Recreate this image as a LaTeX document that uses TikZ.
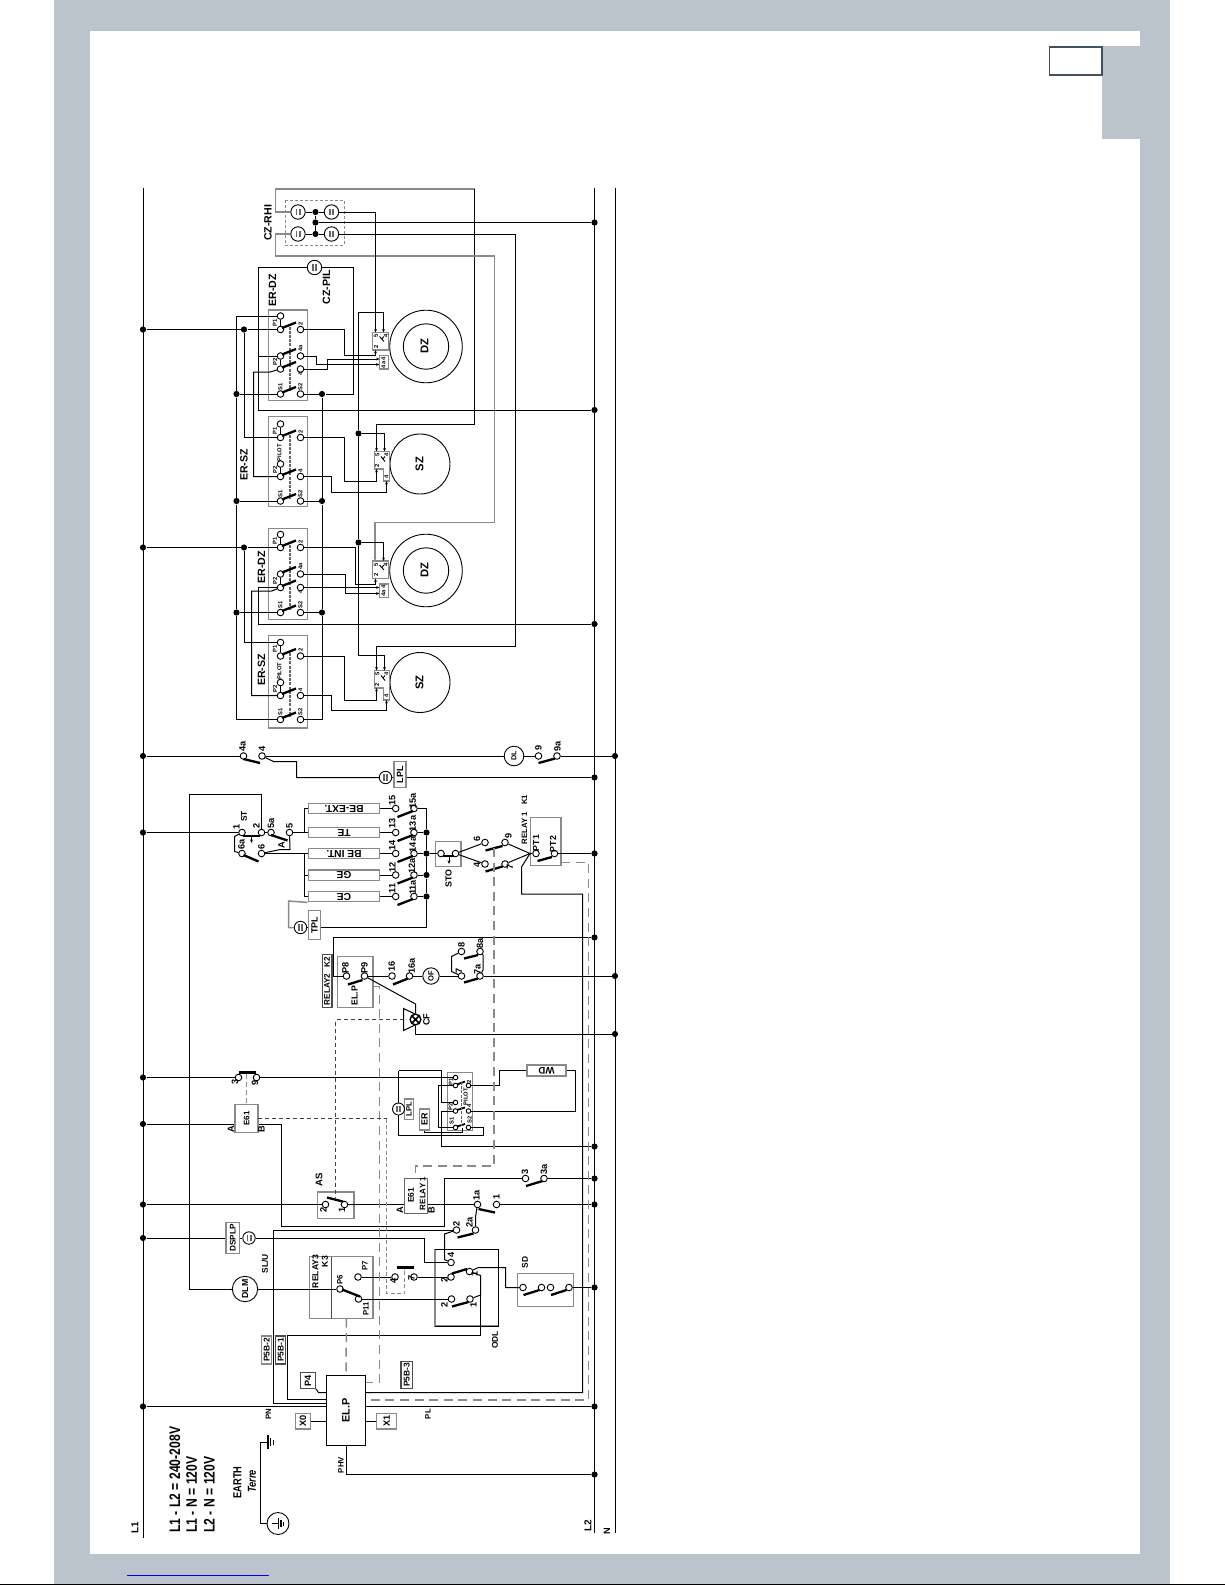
\documentclass[tikz,border=0pt]{standalone}
\usepackage{fontspec}
\setmainfont{Liberation Sans}
\newfontfamily\condfont[FakeStretch=0.8]{Liberation Sans}
\usetikzlibrary{calc,arrows.meta}
\definecolor{framegray}{HTML}{BBC3CD}
\definecolor{boxgray}{HTML}{8A8A8A}
\definecolor{tabdark}{HTML}{44525F}
\newcommand{\fsz}[1]{\fontsize{#1}{#1}\selectfont}
\tikzset{
  wire/.style={line width=.5pt},
  greywire/.style={line width=.75pt,draw=boxgray},
  plug/.style={->,>={Stealth[length=1.7pt,width=1.4pt]}},
  thindash/.style={line width=.45pt,dash pattern=on 2pt off 1.5pt,draw=black!75},
  greydash/.style={line width=.75pt,dash pattern=on 4.5pt off 2.8pt,draw=boxgray},
  finedash/.style={line width=.55pt,dash pattern=on 2pt off 1.2pt,draw=boxgray},
  term/.style={circle,draw,fill=white,inner sep=0pt,minimum size=3.3pt,line width=.45pt},
  smallterm/.style={term,minimum size=2.3pt},
  jdot/.style={circle,fill=black,inner sep=0pt,minimum size=3.1pt},
  blade/.style={line width=1.15pt},
  panel/.style={draw=boxgray,line width=.75pt},
  recep/.style={circle,draw,fill=white,inner sep=0pt,minimum size=#1,line width=.45pt,
    path picture={\draw[line width=.8pt,black!60]
      ([xshift=-.85pt,yshift=-1.7pt]path picture bounding box.center) -- ++(0,3.4pt)
      ([xshift=.85pt,yshift=-1.7pt]path picture bounding box.center) -- ++(0,3.4pt);}},
  recep/.default=7.2pt,
  tag/.style={draw=boxgray,line width=.7pt,fill=white,rotate=90,inner sep=0pt,font=\fsz{4.5}\bfseries},
  blackbox/.style={draw,line width=.5pt,fill=white,inner sep=0pt},
  func/.style={draw=boxgray,line width=.7pt,fill=white,rotate=180,inner sep=0pt,
    minimum width=35.7pt,minimum height=5.2pt,font=\fsz{5.1}\bfseries},
  motor/.style={circle,draw,line width=.45pt,inner sep=0pt},
  mlab/.style={rotate=90,inner sep=0pt,font=\fsz{5.6}\bfseries},
  lab/.style={rotate=90,inner sep=0pt,font=\fsz{4.6}\bfseries},
  tinylab/.style={rotate=90,inner sep=0pt,font=\fsz{2.9}\bfseries},
  boldlab/.style={rotate=90,inner sep=0pt,font=\fsz{5.3}\bfseries},
  biglab/.style={rotate=90,inner sep=0pt,anchor=west,font=\condfont\fsz{7.6}\bfseries},
  earthlab/.style={rotate=90,inner sep=0pt,font=\condfont\fsz{5.8}\bfseries}
}
\begin{document}
\begin{tikzpicture}[x=0.5pt,y=-0.5pt]
\useasboundingbox (0,0) rectangle (1225,1585);
% page frame
\fill[white] (0,0) rectangle (1225,1585);
\fill[framegray] (54,0) rectangle (1169.5,1584);
\fill[white] (89.5,31) rectangle (1140,1554);
\fill[framegray] (1102,46) rectangle (1140,139);
\draw[tabdark,fill=white,line width=.6pt] (1049.5,47) rectangle (1102,75);
\draw[tabdark,line width=1pt] (1049,46.5) -- (1102,46.5);
\draw[line width=.6pt] (0,1584.5) -- (1225,1584.5);
\draw[blue,line width=.4pt] (127,1575.5) -- (269,1575.5);
% supply lines
\coordinate (l1top) at (143,188);
\coordinate (l1bot) at (143,1538);
\coordinate (l2top) at (594.5,188);
\coordinate (l2bot) at (594.5,1533);
\coordinate (ntop) at (615,188);
\coordinate (nbot) at (615,1533);
\foreach \n/\y in {l1a/329.5,l1b/547.5,l1c/756,l1d/832.5,l1e/1077.5,l1f/1124,l1g/1204.5,l1h/1238,l1i/1406.5}
  \node[jdot] (\n) at (143,\y) {};
\foreach \n/\y in {l2a/222.5,l2b/410,l2c/624,l2d/777.5,l2e/853.5,l2f/937.5,l2g/1146.5,l2h/1178.5,l2i/1204.5,l2j/1287.5,l2k/1406.5,l2l/1474.5}
  \node[jdot] (\n) at (594.5,\y) {};
\foreach \n/\y in {na/756,nb/976,nc/1034}
  \node[jdot] (\n) at (615,\y) {};
\draw[wire] (l1top) -- (l1bot);
\draw[wire] (l2top) -- (l2bot);
\draw[wire] (ntop) -- (nbot);
\node[lab,font=\fsz{5}\bfseries] (ltxta) at (135,1528) {L1};
\node[lab,font=\fsz{5}\bfseries] (ltxtb) at (588,1526) {L2};
\node[lab,font=\fsz{4.6}\bfseries] (ltxtc) at (607,1531) {N};
% receptacles at the top
\draw[draw=boxgray,line width=.5pt,dash pattern=on 1.5pt off 1pt] (285,200) rectangle (344,245);
\foreach \n/\x/\y in {rhia/298/212,rhib/331.5/212,rhic/298/234,rhid/331.5/234,cpil/314.5/267.5}
  \node[recep] (\n) at (\x,\y) {};
\node[jdot] (rjt) at (315.5,212) {};
\node[jdot] (rjm) at (315.5,222.5) {};
\node[jdot] (rjb) at (315.5,234) {};
\node[boldlab] (czrhi) at (268,223) {CZ-RHI};
\node[boldlab] (czpil) at (326.5,287.5) {CZ-PIL};
% switch blocks
\foreach \b/\ya/\yb/\yc/\yd/\ye/\yt/\yz in {erda/316/329.5/356/369/394/310/400.5,erdb/534.5/547.5/574/587.5/612.5/528.5/619.5,ersa/424/437.5/464/476.5/501/416.5/506.5,ersb/642.5/656/682.5/695.5/719.5/635.5/728}{
  \draw[panel] (268.5,\yt) rectangle (307.5,\yz);
  \draw[line width=.7pt,draw=black!60,dash pattern=on 1.5pt off .6pt] (290,\yb-3) -- (290,\ye-3);
  \node[term] (\b-ptop) at (280.5,\ya) {};
  \node[term] (\b-p1) at (280.5,\yb) {};
  \node[term] (\b-tb) at (300.5,\yb) {};
  \node[term] (\b-p2a) at (280.5,\yc) {};
  \node[term] (\b-p2) at (280.5,\yd) {};
  \node[term] (\b-s1) at (280.5,\ye) {};
  \node[term] (\b-s2) at (300.5,\ye) {};
  \node[term] (\b-t4) at (300.5,\yd) {};
  \draw[blade] (282,\yb-1.5) -- (296,\yb-7);
  \draw[blade] (282,\yd-1.5) -- (296,\yd-7);
  \draw[blade] (282,\ye-1.5) -- (296,\ye-7);
  \draw[line width=.9pt] (\b-ptop) -- (\b-p1);
  \draw[line width=.9pt] (\b-p2a) -- (\b-p2);
  \node[tinylab] (\b-lp1) at (275,\yb-7) {P1};
  \node[tinylab] (\b-lt2) at (300.5,\yb-6) {2};
  \node[tinylab] (\b-lp2) at (275,\yd-7) {P2};
  \node[tinylab] (\b-ls1) at (280.5,\ye-7.5) {S1};
  \node[tinylab] (\b-ls2) at (300.5,\ye-7.5) {S2};
}
\foreach \b/\yc/\yd in {erda/356/369,erdb/574/587.5}{
  \node[term] (\b-t4a) at (300.5,\yc) {};
  \draw[blade] (282,\yc-1.5) -- (296,\yc-7);
  \node[tinylab] (\b-l4a) at (300.5,\yc-7.5) {4a};
  \node[tinylab] (\b-l4) at (300.5,\yd+4.5) {4};
}
\foreach \b/\yc/\yd in {ersa/464/476.5,ersb/682.5/695.5}{
  \node[tinylab] (\b-lpil) at (279.5,\yc-11.5) {PILOT};
  \node[tinylab] (\b-l4) at (300.5,\yd-6) {4};
}
\node[boldlab] (erdalab) at (272.5,290.5) {ER-DZ};
\node[boldlab] (erdblab) at (261.5,567.5) {ER-DZ};
\node[boldlab] (ersalab) at (244,465) {ER-SZ};
\node[boldlab] (ersblab) at (261.5,670) {ER-SZ};
\node[jdot] (jpa) at (244,329.5) {};
\node[jdot] (jpb) at (244,547.5) {};
\node[jdot] (jsa) at (236.5,394) {};
\node[jdot] (jsb) at (236.5,501) {};
\node[jdot] (jsc) at (236.5,612.5) {};
\node[jdot] (jra) at (322,394) {};
\node[jdot] (jrb) at (322,501) {};
\node[jdot] (jrc) at (322,612.5) {};
\node[jdot] (jha) at (358.5,433.5) {};
\node[jdot] (jhb) at (358.5,542.5) {};
% motors
\node[motor,minimum size=72.6*.5pt] (mda) at (426,346.5) {};
\node[motor,minimum size=45.4*.5pt] (mdai) at (426,346.5) {};
\node[mlab] (mdat) at (424.5,346.5) {DZ};
\node[motor,minimum size=72.6*.5pt] (mdb) at (426,570.5) {};
\node[motor,minimum size=45.4*.5pt] (mdbi) at (426,570.5) {};
\node[mlab] (mdbt) at (424.5,570.5) {DZ};
\node[motor,minimum size=60*.5pt] (msa) at (420,464) {};
\node[mlab] (msat) at (419.5,464) {SZ};
\node[motor,minimum size=60*.5pt] (msb) at (420,682.5) {};
\node[mlab] (msbt) at (419.5,682.5) {SZ};
% motor plugs
\foreach \s/\y in {a/332.5,b/561}{
  \draw[panel,fill=white] (372.5,\y) rectangle (388.5,\y+17.5);
  \draw[panel,fill=white] (379.5,\y+23) rectangle (388.5,\y+36.5);
  \node[tinylab] (pl\s a) at (376,\y+3.5) {5};
  \node[tinylab] (pl\s b) at (386,\y+3.5) {4};
  \node[tinylab] (pl\s c) at (376,\y+14) {2};
  \node[tinylab] (pl\s d) at (383.5,\y+30) {4a 4};
  \draw[line width=.45pt] (379.5,\y+4) -- (384,\y+9) (384,\y+4) -- (381.7,\y+6.5);
}
\foreach \s/\y in {a/451.5,b/670.5}{
  \draw[panel,fill=white] (374.5,\y) -- (389.5,\y) -- (389.5,\y+29.5) -- (383.5,\y+29.5) -- (383.5,\y+17.5) -- (374.5,\y+17.5) -- cycle;
  \node[tinylab] (ql\s a) at (377.5,\y+3.5) {5};
  \node[tinylab] (ql\s b) at (386.5,\y+3.5) {4};
  \node[tinylab] (ql\s c) at (377,\y+14) {2};
  \node[tinylab] (ql\s d) at (386.5,\y+25) {4};
  \draw[line width=.45pt] (381,\y+5) -- (385,\y+10) (385,\y+5) -- (383,\y+7.5);
}
\coordinate (da1) at (375.5,332.5);
\coordinate (da2) at (383.5,332.5);
\coordinate (da3) at (375.5,350);
\coordinate (db4) at (379.5,359);
\coordinate (db4a) at (379.5,364.5);
\coordinate (dc1) at (375,561);
\coordinate (dc2) at (383.5,561);
\coordinate (dc3) at (375.5,578.5);
\coordinate (dd4) at (379.5,587.5);
\coordinate (dd4a) at (379.5,593.5);
\coordinate (ea1) at (376.5,451.5);
\coordinate (ea2) at (384.5,451.5);
\coordinate (ea3) at (376.5,469);
\coordinate (ea4) at (386.5,481);
\coordinate (eb1) at (376.5,670.5);
\coordinate (eb2) at (384.5,670.5);
\coordinate (eb3) at (376.5,688);
\coordinate (eb4) at (386.5,700);
% wiring of the heating section
\draw[wire] (rhia) -- (rjt) -- (rhib);
\draw[wire] (rhic) -- (rjb) -- (rhid);
\draw[wire] (rjt) -- (rjm) -- (rjb);
\draw[wire] (rjm) -- (l2a);
\draw[greywire] (rhia) -| (275.5,189) -- (474.5,189);
\draw[wire,plug] (474.5,189) |- (376.5,424.5) -- (ea1);
\draw[greywire,plug] (rhic) -| (275.5,256) -| (494.5,522.5) -| (dc1);
\draw[wire,plug] (rhib) -| (da1);
\draw[wire,plug] (rhid) -| (515.5,646) -| (eb1);
\draw[wire] (cpil) -| (258.5,410) -- (l2b);
\draw[wire] (258.5,356) -- (erda-p2a);
\draw[wire] (cpil) -| (353.5,394) -- (jra);
\draw[wire] (l1a) -- (jpa) -- (erda-p1);
\draw[wire] (jpa) |- (ersa-p1);
\draw[wire] (l1b) -- (jpb) -- (erdb-p1);
\draw[wire] (jpb) |- (ersb-ptop);
\draw[wire] (erda-ptop) -| (jsa);
\draw[wire] (jsa) -- (jsb) -- (jsc);
\draw[wire] (jsa) -- (erda-s1);
\draw[wire] (jsb) -- (ersa-s1);
\draw[wire] (jsc) -- (erdb-s1);
\draw[wire] (jsc) |- (ersb-s1);
\draw[wire] (erda-s2) -- (jra);
\draw[wire] (jra) -- (jrb) -- (jrc);
\draw[wire] (ersa-s2) -- (jrb);
\draw[wire] (erdb-s2) -- (jrc);
\draw[wire] (jrc) |- (ersb-s2);
\draw[wire,plug] (erda-tb) -| (344.5,355) -| (da3);
\draw[wire,plug] (erda-t4a) -| (316.5,364.5) -- (db4a);
\draw[wire,plug] (erda-t4) -| (327.5,359) -- (db4);
\draw[wire] (erda-p2) -- (270,372) -| (253.5,476.5) -- (ersa-p2);
\draw[wire,plug] (erdb-tb) -| (355.5,584.5) -| (dc3);
\draw[wire,plug] (erdb-t4a) -| (345.5,593.5) -- (dd4a);
\draw[wire,plug] (erdb-t4) -- (dd4);
\draw[wire] (erdb-p2) -- (271.5,591) -| (251.5,695.5) -- (ersb-p2);
\draw[wire] (erdb-p2) -| (258.5,624) -- (l2c);
\draw[wire,plug] (ersa-tb) -| (344.5,481) -| (ea3);
\draw[wire,plug] (ersa-t4) -| (331.5,492.5) -| (ea4);
\draw[wire,plug] (ersb-tb) -| (344.5,700.5) -| (eb3);
\draw[wire,plug] (ersb-t4) -| (331.5,710) -| (eb4);
\draw[wire] (jha) -- (jhb);
\draw[wire,plug] (jha) -- (358.5,312.5) -| (da2);
\draw[wire,plug] (jha) -| (ea2);
\draw[wire,plug] (jhb) -| (dc2);
\draw[wire,plug] (jhb) -- (358.5,655) -| (eb2);
% door lamp row
\foreach \n/\x/\y in {tfa/243.5/756,tfb/262/756,tnine/538.5/756,tnina/557/756}
  \node[term] (\n) at (\x,\y) {};
\node[motor,fill=white,minimum size=9.8pt,font=\fsz{3.6}\bfseries] (dl) at (514,756) {\rotatebox{90}{DL}};
\node[recep=6.2pt] (rl) at (385.5,777.5) {};
\node[tag,minimum width=12.8pt,minimum height=5.9pt] (lpl) at (400,774.5) {LPL};
\draw[wire] (l1c) -- (tfa);
\draw[wire] (tfb) -- (dl) -- (tnine);
\draw[wire] (tnina) -- (na);
\draw[wire] (tfb) -- (273.5,761.5) -| (296.5,777.5) -- (rl);
\draw[wire] (rl) -- (rl -| lpl.north);
\draw[wire] (rl -| lpl.south) -- (l2d);
\draw[blade] (243.5,759) -- (260,763);
\draw[blade] (538.5,763) -- (555,758.5);
\foreach \n/\x/\y/\t in {ta/242.5/746.5/4a,tb/262/749/4,tc/538.5/748/9,td/557.5/746.5/9a}
  \node[lab] (\n) at (\x,\y) {\t};
% start switch and thermostats
\foreach \n/\x/\y in {tone/242/832.5,ttwo/261.5/832.5,tfivea/271/832.5,tfive/289.5/832.5,tsixa/242/853.5,tsix/261.5/853.5}
  \node[term] (\n) at (\x,\y) {};
\node[func] (bex) at (344,808.5) {BE-EXT.};
\node[func] (bte) at (344,832.5) {TE};
\node[func] (bin) at (344,853.5) {BE INT.};
\node[func] (bge) at (344,875) {GE};
\node[func] (bce) at (344,896.5) {CE};
\foreach \n/\y in {a/808.5,b/832.5,c/853.5,d/875,e/896.5}{
  \node[term] (sw\n) at (395.7,\y) {};
  \node[term] (sx\n) at (414,\y) {};
  \draw[blade] (397.5,\y+8.5) -- (413,\y+2.5);
}
\node[jdot] (jbb) at (426.5,832.5) {};
\node[jdot] (jbc) at (426.5,853.5) {};
\node[jdot] (jbd) at (426.5,875) {};
\node[jdot] (jbe) at (426.5,896.5) {};
\node[recep=6.2pt] (rt) at (300.5,927.5) {};
\node[tag,minimum width=14.3pt,minimum height=6.2pt] (tpl) at (314.5,925) {TPL};
\node[motor,fill=white,minimum size=12.7pt,font=\fsz{4.4}\bfseries] (dlm) at (245,1289) {\rotatebox{90}{DLM}};
\draw[wire] (l1d) -- (tone);
\draw[wire] (tone) -- (234.5,836.5) -- (234.5,851.5) -- (tsixa);
\draw[wire] (ttwo) -- (tfivea);
\draw[wire] (ttwo) |- (189.5,794.5) |- (dlm);
\draw[wire] (tfive) -- (bte);
\draw[wire] (tsix) -- (bin);
\draw[wire] (tfive) -- (290,849.5) -- (280,849.5) -- (tsix);
\draw[wire] (bex) -| (304.5,832.5);
\draw[wire] (304.5,853.5) |- (bge);
\draw[wire] (bge) -| (304.5,896.5) -- (bce);
\draw[greywire] (bce.north east) -- (288.5,901) |- (rt);
\draw[wire] (rt) -- (rt -| tpl.north);
\draw[wire] (rt -| tpl.south) -| (jbe);
\draw[wire] (bex) -- (swa);
\draw[wire] (bte) -- (swb);
\draw[wire] (bin) -- (swc);
\draw[wire] (bge) -- (swd);
\draw[wire] (bce) -- (swe);
\draw[wire] (sxa) -| (jbb);
\draw[wire] (sxb) -- (jbb);
\draw[wire] (sxc) -- (jbc);
\draw[wire] (sxd) -- (jbd);
\draw[wire] (sxe) -- (jbe);
\draw[wire] (jbb) -- (jbc) -- (jbd) -- (jbe);
\draw[blade] (243,836) -- (260,836);
\draw[line width=.45pt,->,>={Stealth[length=1.8pt,width=1.5pt]}] (251.5,836) -- (251.5,843);
\draw[blade] (271,835) -- (287.5,840.5);
\draw[blade] (243.5,855) -- (258.5,861.5);
\foreach \n/\x/\y/\t in {tf/236.5/826.5/1,tg/256.5/825.5/2,th/271/823.5/5a,ti/289.5/825.5/5,tj/241.5/844.5/6a,tk/261.5/846.5/6,tl/281.5/845/A,
  tm/392.3/800.5/15,tn/412.7/801/15a,to/392.3/823.5/13,tp/412.7/823.5/13a,tq/392.3/845.5/14,tr/412.7/844.5/14a,ts/392.3/867.5/12,tt/412/866/12a,tu/392.3/888.5/11,tv/412.7/887.5/11a}
  \node[lab] (\n) at (\x,\y) {\t};
\node[boldlab,font=\fsz{4.2}\bfseries] (stlab) at (244,816.5) {ST};
\node[boldlab,font=\fsz{4.4}\bfseries] (stolab) at (448.5,878.5) {STO};
% relay 1
\draw[panel] (435.5,841.5) rectangle (461,866.5);
\draw[panel] (530.5,817.5) rectangle (561,865.5);
\foreach \n/\x/\y in {stoa/441/853.5,stob/455.5/853.5,tsixr/485/842.5,tfourr/485/864,tniner/505/842.5,tsevr/505/864,ptone/536/853.5,pttwo/554.5/853.5}
  \node[term] (\n) at (\x,\y) {};
\coordinate (apex) at (530,853.5);
\draw[wire] (jbc) -- (stoa);
\draw[wire] (stob) -- (tsixr);
\draw[wire] (stob) -- (tfourr);
\draw[wire] (tniner) -- (apex) -- (tsevr);
\draw[wire] (apex) -- (ptone);
\draw[wire] (pttwo) -- (l2e);
\draw[blade] (443,856) -- (454,856);
\draw[line width=.45pt,->,>={Stealth[length=1.8pt,width=1.5pt]}] (449,856) -- (449,864);
\draw[blade] (485.5,850.5) -- (502.5,846);
\draw[blade] (485.5,871.5) -- (502.5,866.5);
\draw[blade] (537.5,861) -- (552,857);
\foreach \n/\x/\y/\t in {ua/477/838.5/6,ub/508.5/836/9,uc/477/865/4,ud/510/867/7}
  \node[lab] (\n) at (\x,\y) {\t};
\node[lab,font=\fsz{3.9}\bfseries] (rlyk) at (524.5,819.5) {RELAY 1\hspace{3.5pt}K1};
\node[lab,font=\fsz{4.4}\bfseries] (ptonel) at (536,843) {PT1};
\node[lab,font=\fsz{4.4}\bfseries] (pttwol) at (553,844) {PT2};
% relay 2
\draw[panel] (337.5,956.5) rectangle (373,1007.5);
\node[tag,draw=black!70,minimum width=26.4pt,minimum height=4.8pt,font=\fsz{4.1}\bfseries] (rlytwo) at (327,981) {RELAY2\hspace{3pt}K2};
\foreach \n/\x/\y in {pe/346.5/976,pn/364.5/976,tsxa/392/976,tsxb/409.5/976,tsva/461.5/976,tsvb/480/976,tega/461.5/951.5,tegb/480/951.5}
  \node[term] (\n) at (\x,\y) {};
\node[motor,fill=white,minimum size=8.2pt,font=\fsz{3.8}\bfseries] (of) at (431,976) {\rotatebox{90}{OF}};
\draw[wire] (403.5,1008.5) -- (415,1014) -- (415,1025) -- (403.5,1030.5) -- cycle;
\node[circle,draw,line width=.7pt,fill=white,inner sep=0pt,minimum size=5.4pt,
  path picture={\draw[line width=.8pt] (path picture bounding box.north west) -- (path picture bounding box.south east)
    (path picture bounding box.north east) -- (path picture bounding box.south west);}] (fan) at (415.5,1019.5) {};
\coordinate (fantop) at (415.5,1004);
\draw[wire] (l2f) -| (333.5,976) -- (pe);
\draw[wire] (pn) -- (tsxa);
\draw[wire] (tsxb) -- (of) -- (tsva);
\draw[wire] (tsvb) -- (nb);
\draw[wire] (tsva) -- (451.5,971.5) -- (451.5,956.5) -- (tega);
\draw[wire] (tsvb) -- (483,970) -- (483,955) -- (tegb);
\draw[wire] (pn) -- (fantop) -- (fan);
\draw[wire] (fan) |- (nc);
\draw[blade] (348,984.5) -- (362.5,980);
\draw[blade] (393,984.5) -- (408,978.5);
\draw[blade] (464,958.5) -- (478,955);
\draw[blade] (464,982.5) -- (478,978.5);
\foreach \n/\x/\y/\t in {va/391.7/966.5/16,vb/411.7/966/16a,vc/461.5/945/8,vd/480/943.5/8a,ve/459/970.5/7,vf/477.5/969.5/7a}
  \node[lab] (\n) at (\x,\y) {\t};
\node[lab,font=\fsz{4.6}\bfseries] (pel) at (345.5,967.5) {P8};
\node[lab,font=\fsz{4.6}\bfseries] (pnl) at (364.5,967.5) {P9};
\node[lab,font=\fsz{4.4}\bfseries] (elpl) at (354.5,995.5) {EL.P};
\node[lab] (cfl) at (426.5,1019.5) {CF};
% delay timer and water
\foreach \n/\x/\y in {tthr/238.5/1077.5,tnin/256.5/1077.5}
  \node[term] (\n) at (\x,\y) {};
\node[tag,minimum width=14pt,minimum height=11.4pt,font=\fsz{4}\bfseries] (eone) at (246.5,1118.5) {E61};
\draw[wire] (l1e) -- (tthr);
\draw[blade] (239,1072.5) -- (256,1072.5);
\draw[wire] (l1f) -- (l1f -| eone.north);
\draw[greydash,dash pattern=on 2.5pt off 1.5pt] (246.5,1074) -- (eone.east);
\foreach \n/\x/\y/\t in {wa/235/1081.5/3,wb/255/1082.5/9,wc/231/1129/A,wd/261.5/1129/B}
  \node[lab] (\n) at (\x,\y) {\t};
% er block with water valve
\draw[panel] (447.5,1072.5) rectangle (472.5,1130.5);
\foreach \n/\x/\y in {xa/455.5/1077.5,xb/455.5/1085.5,xc/468.5/1085.5,xd/455.5/1102.5,xe/455.5/1111,xf/468.5/1111,xg/455.5/1127.5,xh/468.5/1127.5}
  \node[smallterm] (\n) at (\x,\y) {};
\node[tag,minimum width=10.2pt,minimum height=4.6pt,font=\fsz{3.9}\bfseries] (lpb) at (409,1109) {LPL};
\node[tag,minimum width=10.4pt,minimum height=4.8pt] (erb) at (424.5,1119.5) {ER};
\node[recep=6pt] (rw) at (398.5,1109) {};
\node[func,minimum width=19.6pt,minimum height=5.5pt,font=\fsz{4.8}\bfseries] (wd) at (546.5,1070.5) {WD};
\draw[wire] (tnin) -- (xa);
\draw[wire] (398.5,1070.5) -- (rw) -- (398.5,1135) -| (483.5,1127.5) -- (xh);
\draw[wire] (398.5,1070.5) -- (441.5,1070.5) |- (xd);
\draw[wire] (xe) -| (441.5,1146.5) -- (l2g);
\draw[wire] (xb) -| (438.5,1127.5) -- (xg);
\draw[wire] (xc) -| (499.5,1070.5) -- (wd);
\draw[wire] (wd) -| (575.5,1111) -- (xf);
\draw[wire] (erb.west) |- (462.5,1132) -- (462.5,1128);
\draw[line width=.9pt] (457,1084.5) -- (465,1081.5);
\draw[line width=.9pt] (457,1110) -- (465,1107.5);
\draw[line width=.9pt] (457,1126.5) -- (465,1124);
\draw[line width=.6pt,draw=black!60,dash pattern=on 1.5pt off .6pt] (461.5,1082) -- (461.5,1126);
\foreach \n/\x/\y/\t in {ya/451/1081.5/P1,yb/469/1081.5/2,yc/450.5/1106.5/P2,yd/465.5/1096.5/PILOT,ye/469/1106/4,yf/451.5/1120.5/S1,yg/469.5/1120/S2}
  \node[tinylab] (\n) at (\x,\y) {\t};
% as, e61 relay
\draw[panel] (317.5,1192) rectangle (354,1218.5);
\foreach \n/\x/\y in {tasb/325.5/1204.5,tasa/344.5/1204.5,tla/477.5/1204.5,tlb/496.5/1204.5,tma/475.5/1230,tmb/456.5/1230,ttha/525.5/1178.5,tthb/544/1178.5}
  \node[term] (\n) at (\x,\y) {};
\node[tag,draw=black!60,minimum width=17.5pt,minimum height=11.5pt] (rlyone) at (415.8,1195.8) {};
\node[lab,font=\fsz{4.2}\bfseries] (rlya) at (411,1195.5) {E61};
\node[lab,font=\fsz{4}\bfseries] (rlyb) at (422.5,1193.5) {RELAY 1};
\draw[wire] (l1f -| eone.south) -| (281.5,1226.5) -| (444.5,1178.5) -- (ttha);
\draw[wire] (l1g) -- (tasb);
\draw[wire] (tasa) -- (tasa -| rlyone.north);
\draw[wire] (tasa -| rlyone.south) -- (tla);
\draw[wire] (tlb) -- (l2i);
\draw[wire] (tla) -- (475.5,1217) -- (tma);
\draw[wire] (tmb) -| (273.5,1403.5) -- (326.5,1403.5);
\draw[wire] (tthb) -- (l2h);
\draw[blade] (327,1197.5) -- (343,1201.5);
\draw[blade] (478.5,1209) -- (495,1212.5);
\draw[blade] (457.5,1237.5) -- (473.5,1233.5);
\draw[blade] (526,1186) -- (542.5,1181);
\foreach \n/\x/\y/\t in {za/323.5/1209.5/2,zb/342/1209.5/1,zc/400/1210/A,zd/431.5/1210/B,ze/525/1171.5/3,zf/544/1169.5/3a,zg/476.5/1195.5/1a,zh/496.5/1197/1,zi/456.5/1223.5/2,zj/469.5/1222.5/2a}
  \node[lab] (\n) at (\x,\y) {\t};
\node[boldlab,font=\fsz{4.8}\bfseries] (aslab) at (319,1179.5) {AS};
\node[boldlab,font=\fsz{4.2}\bfseries] (sllab) at (265,1264) {SL/U};
% dspl and odl
\node[tag,minimum width=15.7pt,minimum height=6.9pt,font=\fsz{4.1}\bfseries] (dsp) at (232.8,1238) {DSPLP};
\node[recep=6.2pt] (rd) at (249,1238) {};
\draw[panel] (435,1249.5) rectangle (498.5,1326);
\draw[wire] (435,1249.5) -- (498.5,1249.5) -- (498.5,1326) -- (435,1326);
\foreach \n/\x/\y in {oda/451/1262.5,odb/451/1277,odc/469.5/1271.5,odd/451.5/1299,ode/470/1299,pse/340/1289,psg/358.5/1299,psf/358/1277,tfr/395/1277,tsv/414/1277,sda/523/1287.5,sdb/541.5/1287.5,sdc/550.5/1287.5,sdd/569/1287.5}
  \node[term] (\n) at (\x,\y) {};
\draw[panel] (309.5,1256.5) rectangle (373,1318.5);
\draw[wire,draw=black!70] (331.5,1256.5) -- (331.5,1318.5);
\draw[panel] (517.5,1273.5) rectangle (573.5,1306.5);
\draw[wire] (dlm) -- (pse);
\draw[wire] (l1h) -- (dsp) -- (rd);
\draw[wire] (rd) -| (424.5,1262.5) -- (oda);
\draw[wire] (tmb) -- (444.5,1234) -- (444.5,1259.5) -- (oda);
\draw[wire] (psf) -- (tfr);
\draw[wire] (tsv) -- (odb);
\draw[wire] (psg) -- (odd);
\draw[wire] (odc) -- (478.5,1267.5) -| (505.5,1287.5) -- (sda);
\draw[wire] (odc) -- (480.5,1275.5) -- (480.5,1295) -- (ode);
\draw[wire] (480.5,1275.5) -- (480.5,1335.5) -| (287.5,1399.5) -- (326.5,1399.5);
\draw[wire] (sdd) -- (l2j);
\draw[blade] (342,1289.5) -- (360,1296.5);
\draw[blade] (396.5,1267.5) -- (414,1267.5);
\draw[blade] (452,1273.5) -- (467,1269);
\draw[blade] (452,1306.5) -- (468.5,1302);
\draw[blade] (523.5,1295) -- (539.5,1290);
\draw[blade] (551,1295) -- (566.5,1290);
\foreach \n/\x/\y/\t in {oa/451/1254.5/4,ob/444.5/1279.5/2,oc/474.5/1274/1,od/444.5/1305/2,oe/473.5/1305/1,of/393.5/1280.5/4,og/411.5/1277.5/7}
  \node[lab] (t\n) at (\x,\y) {\t};
\node[lab,font=\fsz{4.3}\bfseries] (rlythr) at (315.5,1271.5) {RELAY3};
\node[lab,font=\fsz{4.3}\bfseries] (rlykt) at (325,1261.5) {K3};
\node[lab,font=\fsz{3.9}\bfseries] (psel) at (340,1279.5) {P6};
\node[lab,font=\fsz{3.9}\bfseries] (psfl) at (365,1266) {P7};
\node[lab,font=\fsz{3.9}\bfseries] (psgl) at (366,1308.5) {P11};
\node[boldlab,font=\fsz{4.2}\bfseries] (sdlab) at (525,1262.5) {SD};
\node[boldlab,font=\fsz{4.2}\bfseries] (odllab) at (495,1340) {ODL};
% electronic board
\node[blackbox,rotate=90,minimum width=35.4pt,minimum height=19.7pt,font=\fsz{5.4}\bfseries] (elp) at (346,1410.5) {EL.P};
\node[tag,minimum width=14pt,minimum height=5pt,font=\fsz{4.2}\bfseries] (pbtwo) at (266.7,1350) {P5B-2};
\node[tag,draw=black!70,minimum width=14pt,minimum height=5pt,font=\fsz{4.2}\bfseries] (pbone) at (280.7,1350) {P5B-1};
\node[tag,draw=black!70,minimum width=13.6pt,minimum height=5.6pt,font=\fsz{4.2}\bfseries] (pbthr) at (406.7,1375) {P5B-3};
\node[tag,draw=black!70,minimum width=7.8pt,minimum height=7.3pt,font=\fsz{4.6}\bfseries] (pfr) at (308,1380.5) {P4};
\node[tag,minimum width=7.8pt,minimum height=7.3pt,font=\fsz{4.6}\bfseries] (xzero) at (303,1421) {X0};
\node[tag,minimum width=7.8pt,minimum height=10pt,font=\fsz{4.6}\bfseries] (xone) at (386.7,1421) {X1};
\draw[wire] (pfr.south west) -- (318.5,1392.5) -- (326.5,1392.5);
\draw[wire] (apex) -- (521.5,867) |- (582.5,894) |- (365.7,1392.5);
\draw[wire] (l1i) -- (l1i -| elp.north);
\draw[wire] (l2k -| elp.south) -- (l2k);
\draw[wire] (xzero) -- (xzero -| elp.north);
\draw[wire] (xone) -- (xone -| elp.south);
\draw[wire] (elp.west) |- (l2l);
\draw[greydash] (346.5,1318.5) -- (elp.east);
\draw[greydash] (561,862.5) -| (588.5,1400) -- (365.7,1400);
\draw[greydash] (494,848) |- (415.5,1166) -- (415.5,1178);
\draw[greydash] (373,986.5) -| (379.5,1382.5) -- (365.7,1382.5);
\draw[thindash] (403.5,1019.5) -| (335.5,1197);
\draw[thindash] (257.7,1118.5) -- (386.5,1118.5);
\draw[finedash] (386.5,1118.5) |- (404.5,1293.5) -- (404.5,1268.5);
\foreach \n/\x/\y/\t in {qa/268.5/1414/PN,qb/428/1414/PL,qc/341/1465/PHV}
  \node[lab,font=\fsz{3.9}\bfseries] (\n) at (\x,\y) {\t};
% voltages and earth
\node[biglab] (vla) at (175,1533) {L1 - L2 = 240-208V};
\node[biglab] (vlb) at (191.7,1533) {L1 - N = 120V};
\node[biglab] (vlc) at (209.3,1533) {L2 - N = 120V};
\node[earthlab] (eart) at (237.5,1482.5) {EARTH};
\node[earthlab,font=\condfont\fsz{5.8}\bfseries\itshape] (terr) at (252,1481.5) {Terre};
\node[circle,draw,line width=.45pt,inner sep=0pt,minimum size=11pt] (egnd) at (278,1523.5) {};
\coordinate (gnd) at (267.5,1442.5);
\draw[wire] (egnd) -| (260.5,1442.5) -- (gnd);
\draw[line width=1pt] (267.5,1435) -- (267.5,1448.5);
\draw[line width=.5pt] (270.5,1437.5) -- (270.5,1446);
\draw[line width=.5pt] (273,1440) -- (273,1444.5);
\draw[line width=.5pt] (271.5,1523.5) -- (278.5,1523.5) (278.5,1518) -- (278.5,1529);
\draw[line width=.8pt] (281,1520) -- (281,1527);
\draw[line width=.5pt] (283.5,1521.5) -- (283.5,1525.5);
\end{tikzpicture}
\end{document}
